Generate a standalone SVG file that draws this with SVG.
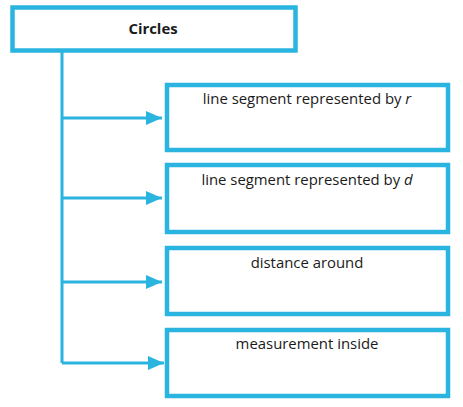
<svg xmlns="http://www.w3.org/2000/svg" width="463" height="407" viewBox="0 0 463 407">
<defs>
<style>
.box{fill:#fff;stroke:#2ab4e0;stroke-width:4.5}
.ln{fill:none;stroke:#2ab4e0;stroke-width:3}
.t{font-family:"Open Sans","Liberation Sans",sans-serif;font-size:14.9px;fill:#1a1a1a;text-anchor:middle}
</style>
<marker id="ah" markerUnits="userSpaceOnUse" markerWidth="18" markerHeight="14" refX="16" refY="7" orient="auto">
<path d="M0,0 L16,7 L0,14 Z" fill="#2ab4e0"/>
</marker>
</defs>
<rect width="463" height="407" fill="#fff"/>
<g id="connectors">
<path class="ln" d="M62,52 V363"/>
<path class="ln" d="M62,118 H162" marker-end="url(#ah)"/>
<path class="ln" d="M62,198 H162" marker-end="url(#ah)"/>
<path class="ln" d="M62,282 H162" marker-end="url(#ah)"/>
<path class="ln" d="M62,363 H164" marker-end="url(#ah)"/>
</g>
<g id="circles">
<rect class="box" x="12.5" y="7.5" width="283" height="43"/>
<text class="t" x="153" y="34" font-weight="bold" font-size="15.8">Circles</text>
</g>
<g id="radius">
<rect class="box" x="167" y="85" width="281" height="65"/>
<text class="t" x="307" y="104">line segment represented by <tspan font-style="italic">r</tspan></text>
</g>
<g id="diameter">
<rect class="box" x="167" y="165" width="281" height="67"/>
<text class="t" x="307" y="185">line segment represented by <tspan font-style="italic">d</tspan></text>
</g>
<g id="circumference">
<rect class="box" x="167" y="248" width="281" height="66"/>
<text class="t" x="307" y="268">distance around</text>
</g>
<g id="area">
<rect class="box" x="167" y="330" width="281" height="66"/>
<text class="t" x="307" y="349">measurement inside</text>
</g>
</svg>
